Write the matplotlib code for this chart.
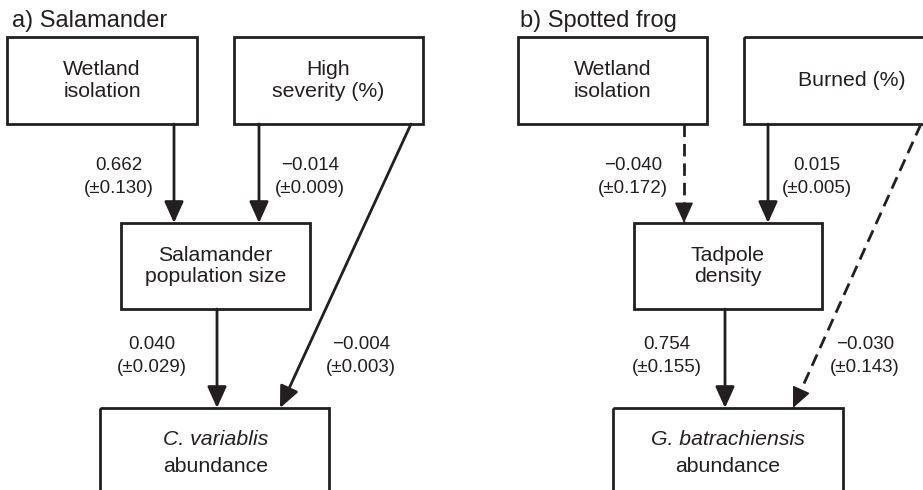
import matplotlib.pyplot as plt
from matplotlib.patches import Rectangle, FancyArrowPatch

plt.rcParams['font.family'] = ['Liberation Sans', 'DejaVu Sans']
INK = '#231f20'

# panel titles
titles = ['a) Salamander', 'b) Spotted frog']
title_pos = [(12, 21), (520, 21)]

# boxes: (x0, y0, x1, y1) in pixels, label
boxes = [
    ((7, 37, 197, 124), 'Wetland\nisolation'),
    ((234, 37, 423, 124), 'High\nseverity (%)'),
    ((121, 223, 310, 309), 'Salamander\npopulation size'),
    ((518, 37, 707, 124), 'Wetland\nisolation'),
    ((744, 37, 960, 124), 'Burned (%)'),
    ((634, 223, 822, 309), 'Tadpole\ndensity'),
]
# response boxes (italic species name + "abundance")
resp_boxes = [((100, 408, 329, 530), 'C. variablis', 216),
              ((613, 408, 843, 530), 'G. batrachiensis', 728)]

# paths: start, end, coefficient, se, dashed, label position
paths = [
    ((174, 124), (174, 223), '0.662', '0.130', False, (119, 177)),
    ((259, 124), (259, 223), '\u22120.014', '0.009', False, (310, 177)),
    ((411, 124), (280, 408), '\u22120.004', '0.003', False, (361, 356)),
    ((217, 309), (217, 408), '0.040', '0.029', False, (152, 356)),
    ((684, 124), (684, 223), '\u22120.040', '0.172', True, (633, 177)),
    ((768, 124), (768, 223), '0.015', '0.005', False, (817, 177)),
    ((921, 124), (793, 408), '\u22120.030', '0.143', True, (865, 356)),
    ((725, 309), (725, 408), '0.754', '0.155', False, (667, 356)),
]

fig = plt.figure(figsize=(9.23, 4.9), dpi=100)
ax = fig.add_axes([0, 0, 1, 1])
ax.set_xlim(0, 923)
ax.set_ylim(490, 0)
ax.axis('off')

for t, (x, y) in zip(titles, title_pos):
    ax.text(x, y, t, fontsize=17, color=INK, ha='left', va='center')

for (x0, y0, x1, y1), lab in boxes:
    ax.add_patch(Rectangle((x0, y0), x1 - x0, y1 - y0, fill=False,
                           lw=2, ec=INK))
    ax.text((x0 + x1) / 2, (y0 + y1) / 2, lab, fontsize=15.3, color=INK,
            ha='center', va='center', linespacing=1.17)

for (x0, y0, x1, y1), sp, cx in resp_boxes:
    ax.add_patch(Rectangle((x0, y0), x1 - x0, y1 - y0, fill=False,
                           lw=2, ec=INK))
    ax.text(cx, 439, sp, fontsize=15.3, style='italic', color=INK,
            ha='center', va='center')
    ax.text(cx, 466, 'abundance', fontsize=15.3, color=INK,
            ha='center', va='center')

head = '-|>,head_length=1.0,head_width=0.45'
for start, end, coef, se, dashed, (lx, ly) in paths:
    if dashed:
        # dashed shaft, then a solid head on the last few pixels
        ax.plot([start[0], end[0]], [start[1], end[1]], color=INK, lw=2,
                linestyle=(0, (4.5, 2.5)), solid_capstyle='butt')
        f = 13 / ((end[0] - start[0]) ** 2 + (end[1] - start[1]) ** 2) ** 0.5
        hs = (end[0] - (end[0] - start[0]) * f, end[1] - (end[1] - start[1]) * f)
        ax.add_patch(FancyArrowPatch(hs, end, arrowstyle=head, mutation_scale=13,
                                     lw=1, color=INK, shrinkA=0, shrinkB=0))
    else:
        ax.add_patch(FancyArrowPatch(start, end, arrowstyle=head, mutation_scale=13,
                                     lw=2, color=INK, shrinkA=0, shrinkB=0))
    ax.text(lx, ly, coef + '\n(\u00b1' + se + ')', fontsize=13.5, color=INK,
            ha='center', va='center', linespacing=1.45)

fig.savefig('out.png', dpi=100)
